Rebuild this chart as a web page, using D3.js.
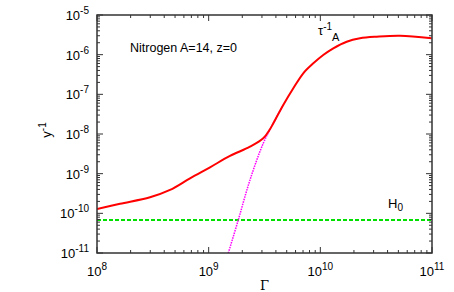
<!DOCTYPE html>
<html>
<head>
<meta charset="utf-8">
<script src="https://cdn.jsdelivr.net/npm/d3@7"></script>
<style>
  body { margin: 0; background: #fff; }
  text { font-family: "Liberation Sans", Arial, sans-serif; fill: #000; }
</style>
</head>
<body>
<div id="chart"></div>
<script>
// log10 values
const tauLogGamma = [8.0, 8.206, 8.475, 8.654, 8.833, 9.012, 9.191, 9.37, 9.489, 9.549, 9.579, 9.668, 9.758, 9.847, 9.937, 10.026, 10.116, 10.236, 10.355, 10.505, 10.713, 10.997];
const tauLogRate  = [-9.89, -9.76, -9.596, -9.411, -9.117, -8.839, -8.554, -8.32, -8.108, -7.88, -7.73, -7.269, -6.848, -6.469, -6.218, -6.008, -5.839, -5.673, -5.588, -5.547, -5.522, -5.587];

const dotLogGamma = [9.176, 9.265, 9.37, 9.489, 9.579, 9.668];
const dotLogRate  = [-11.0, -10.168, -9.159, -8.234, -7.73, -7.269];

const hubbleRate = 6.8e-11;

const xTickExp = [8, 9, 10, 11];
const yTickExp = [-11, -10, -9, -8, -7, -6, -5];

const margin = { top: 15, right: 22, bottom: 39, left: 97 };
const width = 454 - margin.left - margin.right;
const height = 292 - margin.top - margin.bottom;

const svg = d3.select("#chart")
    .append("svg")
    .attr("width", 454)
    .attr("height", 292)
    .append("g")
    .attr("transform", "translate(" + margin.left + "," + margin.top + ")");

const xScale = d3.scaleLog().domain([1e8, 1e11]).range([0, width]);
const yScale = d3.scaleLog().domain([1e-11, 1e-5]).range([height, 0]);

// clip for curves
svg.append("clipPath").attr("id", "clip")
    .append("rect").attr("width", width).attr("height", height);

const toPts = (xs, ys) => xs.map((v, i) => [Math.pow(10, v), Math.pow(10, ys[i])]);

const line = d3.line()
    .x(d => xScale(d[0]))
    .y(d => yScale(d[1]))
    .curve(d3.curveCatmullRom);

// H0 line
svg.append("line")
    .attr("x1", 0).attr("x2", width)
    .attr("y1", yScale(hubbleRate)).attr("y2", yScale(hubbleRate))
    .attr("stroke", "#00e000")
    .attr("stroke-width", 2)
    .attr("stroke-dasharray", "4,2");

// magenta dotted approximation
svg.append("path")
    .datum(toPts(dotLogGamma, dotLogRate))
    .attr("clip-path", "url(#clip)")
    .attr("d", line)
    .attr("fill", "none")
    .attr("stroke", "#ff00ff")
    .attr("stroke-width", 1.5)
    .attr("stroke-dasharray", "1.5,1");

// red curve
svg.append("path")
    .datum(toPts(tauLogGamma, tauLogRate))
    .attr("clip-path", "url(#clip)")
    .attr("d", line)
    .attr("fill", "none")
    .attr("stroke", "#ff0000")
    .attr("stroke-width", 2);

// axes: ticks inside on all four sides
const xMinor = [];
for (let e = 8; e < 11; e++) for (let m = 2; m <= 9; m++) xMinor.push(m * Math.pow(10, e));
const yMinor = [];
for (let e = -11; e < -5; e++) for (let m = 2; m <= 9; m++) yMinor.push(m * Math.pow(10, e));
const xMajor = xTickExp.map(e => Math.pow(10, e));
const yMajor = yTickExp.map(e => Math.pow(10, e));

const tickColor = "#333";
function ticks(vals, len) {
    vals.forEach(v => {
        const x = xScale(v);
        svg.append("line").attr("x1", x).attr("x2", x).attr("y1", height).attr("y2", height - len)
            .attr("stroke", tickColor);
        svg.append("line").attr("x1", x).attr("x2", x).attr("y1", 0).attr("y2", len)
            .attr("stroke", tickColor);
    });
}
function yticks(vals, len) {
    vals.forEach(v => {
        const y = yScale(v);
        svg.append("line").attr("x1", 0).attr("x2", len).attr("y1", y).attr("y2", y)
            .attr("stroke", tickColor);
        svg.append("line").attr("x1", width).attr("x2", width - len).attr("y1", y).attr("y2", y)
            .attr("stroke", tickColor);
    });
}
ticks(xMinor, 3);
ticks(xMajor, 6);
yticks(yMinor, 3);
yticks(yMajor, 6);

svg.append("rect")
    .attr("width", width).attr("height", height)
    .attr("fill", "none")
    .attr("stroke", "#333")
    .attr("stroke-width", 1.5);

// tick labels
xTickExp.forEach(e => {
    const t = svg.append("text")
        .attr("x", xScale(Math.pow(10, e)))
        .attr("y", height + 23)
        .attr("text-anchor", "middle")
        .style("font-size", "13px");
    t.append("tspan").text("10");
    t.append("tspan").attr("dy", -6).style("font-size", "10px").text(e);
});

yTickExp.forEach(e => {
    const t = svg.append("text")
        .attr("x", -8)
        .attr("y", yScale(Math.pow(10, e)) + 5)
        .attr("text-anchor", "end")
        .style("font-size", "13px");
    t.append("tspan").text("10");
    t.append("tspan").attr("dy", -6).style("font-size", "10px").text(e);
});

// labels
svg.append("text")
    .attr("x", 33).attr("y", 37)
    .style("font-size", "12.5px")
    .text("Nitrogen A=14, z=0");

const tau = svg.append("text")
    .attr("x", 221).attr("y", 20)
    .style("font-size", "13px");
tau.append("tspan").text("τ");
tau.append("tspan").attr("dy", -5).style("font-size", "10px").text("-1");
tau.append("tspan").attr("dy", 11).style("font-size", "11px").text("A");

const h0 = svg.append("text")
    .attr("x", 291).attr("y", 193)
    .style("font-size", "13px");
h0.append("tspan").text("H");
h0.append("tspan").attr("dy", 3).style("font-size", "10px").text("0");

svg.append("text")
    .attr("x", width / 2)
    .attr("y", height + 37)
    .attr("text-anchor", "middle")
    .style("font-family", "'DejaVu Serif', serif")
    .style("font-size", "13px")
    .text("Γ");

const yl = svg.append("text")
    .attr("transform", "translate(" + (-46) + "," + (height / 2 - 4) + ") rotate(-90)")
    .attr("text-anchor", "middle")
    .style("font-size", "13px");
yl.append("tspan").text("y");
yl.append("tspan").attr("dy", -5).style("font-size", "10px").text("-1");
</script>
</body>
</html>
